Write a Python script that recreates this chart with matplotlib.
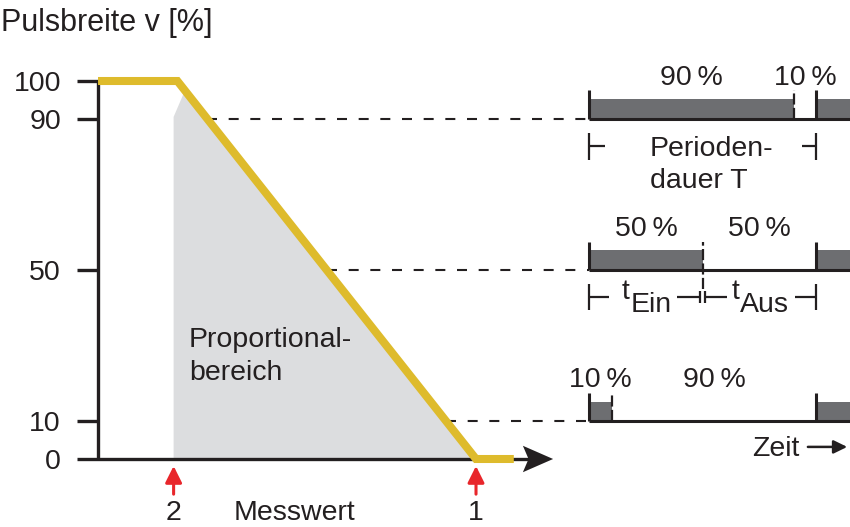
import matplotlib
matplotlib.use("Agg")
import matplotlib.pyplot as plt
from matplotlib.patches import Polygon

plt.rcParams["font.family"] = ["Liberation Sans", "DejaVu Sans"]

# Kennlinie: Pulsbreite v [%] über dem Messwert
messwert = [0, 21, 100, 110]
pulsbreite = [100, 100, 0, 0]
punkte = {"2": 20, "1": 100}
y_ticks = [0, 10, 50, 90, 100]

# Proportionalbereich (grau hinterlegt)
prop_x = [20, 20, 23, 100]
prop_y = [0, 90.5, 97.5, 0]

# Pulsdiagramme rechts: je eine Zeile pro Pulsbreite
zeilen = [90, 50, 10]
t_start = 130
periode = 60
t_ende = 199

GELB = "#debb2c"
HELLGRAU = "#dcdddf"
DUNKELGRAU = "#6d6e71"
ROT = "#e8262b"
SCHWARZ = "#231f20"
FS = 20.5

fig = plt.figure(figsize=(8.5, 5.27), dpi=100)
ax = fig.add_axes([0, 0, 1, 1])
ax.set_xlim(-25.93, 198.94)
ax.set_ylim(-17.99, 121.43)
ax.axis("off")


def linie_bei(v):
    """x-Position der Kennlinie für eine Pulsbreite v."""
    return messwert[1] + (messwert[2] - messwert[1]) * (100 - v) / 100


# Proportionalbereich
ax.add_patch(Polygon(list(zip(prop_x, prop_y)), closed=True,
                     facecolor=HELLGRAU, edgecolor="none", zorder=1))

# gestrichelte Hilfslinien zu den Pulsdiagrammen
for v in zeilen:
    ax.plot([linie_bei(v), t_start], [v, v], color=SCHWARZ, lw=1.5,
            dashes=(4.8, 5.6), zorder=2)

# Achsen
ax.plot([0, 0], [0, 100.3], color=SCHWARZ, lw=2.4, solid_capstyle="butt", zorder=3)
ax.plot([-5.55, 114], [0, 0], color=SCHWARZ, lw=2.4, solid_capstyle="butt", zorder=3)
ax.hlines(y_ticks[1:], -5.55, 0, color=SCHWARZ, lw=2.4, zorder=3)
ax.add_patch(Polygon([(120.4, 0), (112.4, 3.5), (113.9, 0), (112.4, -3.5)],
                     closed=True, facecolor=SCHWARZ, edgecolor="none", zorder=3))
for v in y_ticks:
    ax.text(-9.8, v - 2.6, str(v), ha="right", va="baseline", fontsize=FS,
            color=SCHWARZ)

# Kennlinie
ax.plot(messwert, pulsbreite, color=GELB, lw=5.8, solid_joinstyle="miter",
        solid_capstyle="butt", zorder=4)

ax.text(-25.6, 113.2, "Pulsbreite v [%]", ha="left", va="baseline", fontsize=22,
        color=SCHWARZ)
ax.text(24.1, 29.6, "Proportional-", ha="left", va="baseline", fontsize=FS, color=SCHWARZ)
ax.text(24.1, 20.9, "bereich", ha="left", va="baseline", fontsize=FS, color=SCHWARZ)

# Markierungen 1 und 2 unter der Messwert-Achse
for name, x in punkte.items():
    ax.annotate("", xy=(x, -1.85), xytext=(x, -9.3),
                arrowprops=dict(arrowstyle="-|>,head_length=0.5,head_width=0.25",
                                color=ROT, lw=2.2, mutation_scale=20,
                                shrinkA=0, shrinkB=0))
    ax.text(x, -16.1, name, ha="center", va="baseline", fontsize=FS, color=SCHWARZ)
ax.text(35.8, -16.1, "Messwert", ha="left", va="baseline", fontsize=FS, color=SCHWARZ)

# Pulsdiagramme
for i, v in enumerate(zeilen):
    t_ein = periode * v / 100
    ax.bar([t_start, t_start + periode], 5.2,
           width=[t_ein, t_ende - t_start - periode], bottom=v, align="edge",
           color=DUNKELGRAU, linewidth=0, zorder=2)
    ax.plot([t_start, t_ende], [v, v], color=SCHWARZ, lw=2.2,
            solid_capstyle="butt", zorder=3)
    ax.vlines([t_start, t_start + periode], v, v + 7.5, color=SCHWARZ, lw=2.2,
              zorder=3)
    unten = v - 5 if i == 1 else v
    ax.plot([t_start + t_ein] * 2, [unten, v + 7.5], color=SCHWARZ, lw=1.6,
            dashes=(5, 1.5), zorder=3)
    ax.text(t_start + t_ein / 2, v + 9, f"{v}\u2009%", ha="center", va="baseline",
            fontsize=FS, color=SCHWARZ)
    ax.text(t_start + (t_ein + periode) / 2, v + 9, f"{100 - v}\u2009%", ha="center",
            va="baseline", fontsize=FS, color=SCHWARZ)

# Periodendauer T
ya = zeilen[0] - 7.3
ax.vlines([t_start, t_start + periode], ya - 3.6, ya + 3.6, color=SCHWARZ, lw=1.6)
ax.hlines([ya, ya], [t_start, t_start + periode - 3.8], [t_start + 4, t_start + periode],
          color=SCHWARZ, lw=1.6)
ax.text(146, 80.2, "Perioden-", ha="left", va="baseline", fontsize=FS, color=SCHWARZ)
ax.text(146, 71.7, "dauer T", ha="left", va="baseline", fontsize=FS, color=SCHWARZ)

# Ein- und Ausschaltzeit
ya = zeilen[1] - 7.1
t_mitte = t_start + periode * zeilen[1] / 100
ax.vlines([t_start, t_start + periode], ya - 3.4, ya + 3.4, color=SCHWARZ, lw=1.6)
ax.vlines([t_mitte - 0.7, t_mitte + 0.7], ya - 1.6, ya + 1.6, color=SCHWARZ, lw=1.6)
ax.hlines([ya] * 4, [t_start, 153.2, t_mitte + 0.7, 184.4],
          [135.3, t_mitte - 0.7, 166.4, t_start + periode], color=SCHWARZ, lw=1.6)
for x0, sub in [(138.6, "Ein"), (167.6, "Aus")]:
    ax.text(x0, 42.3, "t", ha="left", va="baseline", fontsize=FS, color=SCHWARZ)
    ax.text(x0 + 2.2, 39.0, sub, ha="left", va="baseline", fontsize=FS, color=SCHWARZ)

# Zeitachse
ax.text(173, 0.8, "Zeit", ha="left", va="baseline", fontsize=FS, color=SCHWARZ)
ax.annotate("", xy=(198.2, 3.2), xytext=(187.8, 3.2),
            arrowprops=dict(arrowstyle="-|>,head_length=0.45,head_width=0.22",
                            color=SCHWARZ, lw=1.8, mutation_scale=18,
                            shrinkA=0, shrinkB=0))

fig.savefig("out.png", dpi=100, facecolor="white")
